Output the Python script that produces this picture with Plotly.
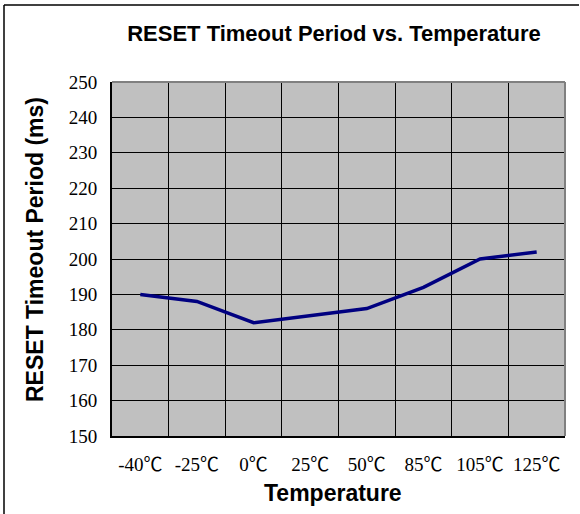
import plotly.graph_objects as go

categories = ["-40℃", "-25℃", "0℃", "25℃", "50℃", "85℃", "105℃", "125℃"]
timeout_ms = [190, 188, 182, 184, 186, 192, 200, 202]
y_ticks = [150, 160, 170, 180, 190, 200, 210, 220, 230, 240, 250]

W, H = 580, 514
L, R, T, B = 112, 15, 82, 78
PW, PH = W - L - R, H - T - B

fig = go.Figure()
fig.add_trace(go.Scatter(
    x=categories, y=timeout_ms, mode="lines",
    line=dict(color="#000080", width=3.5), hoverinfo="x+y"))

serif = "Liberation Serif, Times New Roman, Noto Sans CJK TC, serif"
sans = "Liberation Sans, Arial, sans-serif"

fig.update_layout(
    width=W, height=H,
    margin=dict(l=L, r=R, t=T, b=B, autoexpand=False),
    paper_bgcolor="white", plot_bgcolor="#c0c0c0",
    showlegend=False,
    title=dict(text="<b>RESET Timeout Period vs. Temperature</b>",
               x=(334 - L) / PW, xref="paper", xanchor="center",
               y=1 - 33 / H, yref="container", yanchor="middle",
               font=dict(family=sans, size=22, color="black")),
    xaxis=dict(type="category", categoryorder="array", categoryarray=categories,
               range=[-0.5, len(categories) - 0.5], automargin=False,
               tickson="boundaries", showgrid=True, gridcolor="black", gridwidth=1,
               showline=True, linecolor="black", linewidth=2,
               ticks="", ticklabelstandoff=10,
               tickfont=dict(family=serif, size=19, color="black"),
               zeroline=False, fixedrange=True),
    yaxis=dict(range=[150, 250], tickvals=y_ticks, showgrid=True, automargin=False,
               gridcolor="black", gridwidth=1,
               showline=True, linecolor="black", linewidth=2,
               ticks="inside", ticklen=5, tickcolor="black",
               ticklabelstandoff=9,
               tickfont=dict(family=serif, size=19, color="black"),
               zeroline=False, fixedrange=True),
    shapes=[
        dict(type="line", xref="paper", yref="paper", x0=0, x1=1, y0=1, y1=1,
             line=dict(color="#808080", width=2)),
        dict(type="line", xref="paper", yref="paper", x0=1, x1=1, y0=0, y1=1,
             line=dict(color="#808080", width=2)),
        dict(type="line", xref="paper", yref="paper",
             x0=-(L - 4) / PW, x1=-(L - 4) / PW,
             y0=-B / PH, y1=(H - T - 1) / PH,
             line=dict(color="black", width=1.5)),
        dict(type="line", xref="paper", yref="paper",
             x0=-(L - 4) / PW, x1=(W - L - 1) / PW,
             y0=(H - T - 1) / PH, y1=(H - T - 1) / PH,
             line=dict(color="black", width=1.5)),
    ],
    annotations=[
        dict(text="<b>Temperature</b>", xref="paper", yref="paper",
             x=(333 - L) / PW, y=-(493 - T - PH) / PH, xanchor="center", yanchor="middle",
             showarrow=False, font=dict(family=sans, size=23, color="black")),
        dict(text="<b>RESET Timeout Period (ms)</b>", xref="paper", yref="paper",
             x=-(L - 35) / PW, y=(436 - 250) / PH,
             xanchor="center", yanchor="middle", textangle=-90,
             showarrow=False, font=dict(family=sans, size=23, color="black")),
    ],
)

fig.write_html("out.html", config={"displayModeBar": False},
               post_script="document.body.style.margin='0';")
